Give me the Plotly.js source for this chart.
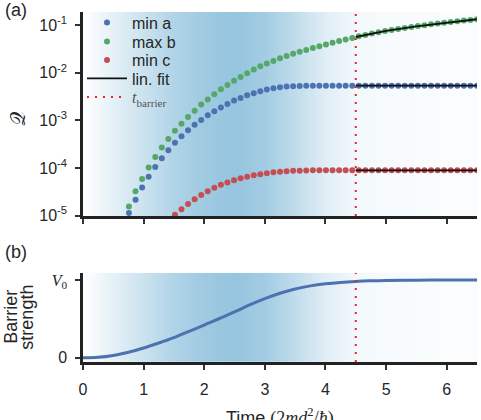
<!DOCTYPE html>
<html>
<head>
<meta charset="utf-8">
<script src="https://cdn.plot.ly/plotly-3.0.1.min.js"></script>
<style>html,body{margin:0;padding:0;background:#fff;}#chart{width:481px;height:420px;}</style>
</head>
<body>
<div id="chart"></div>
<script>
// ---- data ----
const times = [0, 0.108, 0.217, 0.325, 0.433, 0.542, 0.65, 0.758, 0.867, 0.975,
  1.083, 1.192, 1.3, 1.408, 1.517, 1.625, 1.733, 1.842, 1.95, 2.058,
  2.167, 2.275, 2.383, 2.492, 2.6, 2.708, 2.817, 2.925, 3.033, 3.142,
  3.25, 3.358, 3.467, 3.575, 3.683, 3.792, 3.9, 4.008, 4.117, 4.225,
  4.333, 4.442, 4.55, 4.658, 4.767, 4.875, 4.983, 5.092, 5.2, 5.308,
  5.417, 5.525, 5.633, 5.742, 5.85, 5.958, 6.067, 6.175, 6.283, 6.392, 6.5];

const minA = [1e-9, 1e-8, 6e-8, 2.5e-7, 8e-7, 2e-6, 5e-6,
  1.13e-5, 2.14e-5, 3.88e-5, 6.50e-5, 1.04e-4, 1.60e-4, 2.36e-4, 3.36e-4, 4.65e-4, 6.19e-4,
  8.02e-4, 1.02e-3, 1.28e-3, 1.55e-3, 1.85e-3, 2.21e-3, 2.59e-3, 2.95e-3, 3.36e-3, 3.70e-3,
  4.07e-3, 4.41e-3, 4.71e-3, 4.94e-3, 5.12e-3, 5.21e-3, 5.27e-3, 5.31e-3,
  5.33e-3, 5.33e-3, 5.33e-3, 5.33e-3, 5.33e-3, 5.33e-3, 5.33e-3, 5.33e-3, 5.33e-3, 5.33e-3,
  5.33e-3, 5.33e-3, 5.33e-3, 5.33e-3, 5.33e-3, 5.33e-3, 5.33e-3, 5.33e-3, 5.33e-3, 5.33e-3,
  5.33e-3, 5.33e-3, 5.33e-3, 5.33e-3, 5.33e-3, 5.33e-3];

const maxB = [2e-9, 2e-8, 1.2e-7, 5e-7, 1.5e-6, 3.5e-6, 7.5e-6,
  1.55e-5, 3.24e-5, 5.89e-5, 1.02e-4, 1.70e-4, 2.69e-4, 4.07e-4, 6.03e-4, 8.51e-4, 1.17e-3,
  1.58e-3, 2.14e-3, 2.72e-3, 3.52e-3, 4.49e-3, 5.52e-3, 6.79e-3, 8.13e-3, 9.70e-3, 1.16e-2,
  1.36e-2, 1.55e-2, 1.76e-2,
  0.0200, 0.0224, 0.0248, 0.0273, 0.0300, 0.0328, 0.0358, 0.0390, 0.0425, 0.0460, 0.0497, 0.0535,
  0.0579, 0.0620, 0.0661, 0.0703, 0.0744, 0.0785, 0.0826, 0.0867, 0.0908, 0.0950,
  0.0991, 0.1032, 0.1073, 0.1114, 0.1155, 0.1197, 0.1238, 0.1279, 0.1320];

const minC = [1e-10, 1e-9, 6e-9, 2.5e-8, 7e-8, 1.5e-7, 2.7e-7, 4.2e-7, 6e-7, 8.3e-7,
  1.1e-6, 2.2e-6, 4e-6, 6.8e-6,
  1.04e-5, 1.36e-5, 1.74e-5, 2.19e-5, 2.69e-5, 3.25e-5, 3.83e-5, 4.41e-5, 4.97e-5, 5.52e-5,
  6.05e-5, 6.54e-5, 7.00e-5, 7.41e-5, 7.78e-5, 8.09e-5, 8.32e-5, 8.53e-5, 8.69e-5, 8.77e-5, 8.86e-5,
  8.9e-5, 8.9e-5, 8.9e-5, 8.9e-5, 8.9e-5, 8.9e-5, 8.9e-5, 8.9e-5, 8.9e-5, 8.9e-5,
  8.9e-5, 8.9e-5, 8.9e-5, 8.9e-5, 8.9e-5, 8.9e-5, 8.9e-5, 8.9e-5, 8.9e-5, 8.9e-5,
  8.9e-5, 8.9e-5, 8.9e-5, 8.9e-5, 8.9e-5, 8.9e-5];

const fitT = [4.5, 5.0, 5.5, 6.0, 6.5];
const fitB = [0.056, 0.075, 0.094, 0.113, 0.132];
const fitA = [5.33e-3, 5.33e-3, 5.33e-3, 5.33e-3, 5.33e-3];
const fitC = [8.9e-5, 8.9e-5, 8.9e-5, 8.9e-5, 8.9e-5];

const tBarrier = 4.5;

const barrierT = [0, 0.25, 0.5, 0.75, 1.0, 1.25, 1.5, 1.75, 2.0, 2.25, 2.5, 2.75, 3.0, 3.25,
  3.5, 3.75, 4.0, 4.25, 4.5, 4.75, 5.0, 5.5, 6.0, 6.5];
const barrierV = [0, 0.006, 0.03, 0.07, 0.125, 0.19, 0.26, 0.34, 0.42, 0.505, 0.59, 0.68, 0.76, 0.83,
  0.885, 0.925, 0.952, 0.97, 0.982, 0.99, 0.995, 0.998, 1.0, 1.0];

// background shading intensity along time
const bgT = [0, 0.5, 1, 1.5, 2, 2.5, 3, 3.5, 4, 4.5, 5, 5.5, 6, 6.5];
const bgLevel = [0, 0.25, 0.5, 0.75, 0.92, 1.0, 0.88, 0.6, 0.3, 0.12, 0.08, 0.06, 0.05, 0.05];

const xTickVals = [0, 1, 2, 3, 4, 5, 6];
const xTickText = ['0', '1', '2', '3', '4', '5', '6'];
const yTickVals = [1e-5, 1e-4, 1e-3, 1e-2, 1e-1];
const yTickText = ['10<sup>-5</sup>', '10<sup>-4</sup>', '10<sup>-3</sup>', '10<sup>-2</sup>', '10<sup>-1</sup>'];
const y2TickVals = [0, 1];
const y2TickText = ['0', '<span style="font-family:Liberation Serif,serif"><i>V</i><sub>0</sub></span>'];

const topYRange = [-5.01, -0.727];
const botYRange = [-0.055, 1.094];

// ---- styling ----
const cBlue = '#4c72b0', cGreen = '#55a868', cRed = '#c44e52', cBar = '#e8262a';
const bgScale = [[0, '#ffffff'], [1, '#96c5df']];
const txt = '#262626';

const traces = [
  {type: 'heatmap', x: bgT, y: [1e-7, 10], z: [bgLevel, bgLevel], xaxis: 'x', yaxis: 'y',
   colorscale: bgScale, zmin: 0, zmax: 1, zsmooth: 'best', showscale: false, hoverinfo: 'skip'},
  {type: 'heatmap', x: bgT, y: [-1, 2], z: [bgLevel, bgLevel], xaxis: 'x2', yaxis: 'y2',
   colorscale: bgScale, zmin: 0, zmax: 1, zsmooth: 'best', showscale: false, hoverinfo: 'skip'},
  {type: 'scatter', mode: 'markers', name: 'min a', legend: 'legend', x: times, y: minA, xaxis: 'x', yaxis: 'y',
   marker: {color: cBlue, size: 6}},
  {type: 'scatter', mode: 'markers', name: 'max b', legend: 'legend2', x: times, y: maxB, xaxis: 'x', yaxis: 'y',
   marker: {color: cGreen, size: 6}},
  {type: 'scatter', mode: 'markers', name: 'min c', legend: 'legend3', x: times, y: minC, xaxis: 'x', yaxis: 'y',
   marker: {color: cRed, size: 6}},
  {type: 'scatter', mode: 'lines', name: 'lin. fit', legend: 'legend4', legendgroup: 'fit', x: fitT, y: fitA,
   xaxis: 'x', yaxis: 'y', line: {color: '#111', width: 1.8}},
  {type: 'scatter', mode: 'lines', name: 'lin. fit', legend: 'legend4', legendgroup: 'fit', showlegend: false,
   x: fitT, y: fitB, xaxis: 'x', yaxis: 'y', line: {color: '#111', width: 1.8}},
  {type: 'scatter', mode: 'lines', name: 'lin. fit', legend: 'legend4', legendgroup: 'fit', showlegend: false,
   x: fitT, y: fitC, xaxis: 'x', yaxis: 'y', line: {color: '#111', width: 1.8}},
  {type: 'scatter', mode: 'lines',
   name: '<span style="font-family:Liberation Serif,serif;color:#555"><i>t</i><sub>barrier</sub></span>',
   legend: 'legend5', legendgroup: 'tb', x: [tBarrier, tBarrier],
   y: [Math.pow(10, topYRange[0]), Math.pow(10, topYRange[1])], xaxis: 'x', yaxis: 'y',
   line: {color: cBar, width: 2, dash: '2px,6px'}},
  {type: 'scatter', mode: 'lines', name: 'barrier', showlegend: false, x: barrierT, y: barrierV,
   xaxis: 'x2', yaxis: 'y2', line: {color: cBlue, width: 3, shape: 'spline'}},
  {type: 'scatter', mode: 'lines', name: 'tb2', legend: 'legend5', legendgroup: 'tb', showlegend: false,
   x: [tBarrier, tBarrier], y: botYRange, xaxis: 'x2', yaxis: 'y2',
   line: {color: cBar, width: 2, dash: '2px,6px'}}
];

const axisCommon = {
  showline: true, linewidth: 2.5, linecolor: '#222', showgrid: false, zeroline: false,
  ticks: 'outside', ticklen: 5, tickwidth: 1.5, tickcolor: '#333',
  tickfont: {family: 'Liberation Sans, Arial, sans-serif', size: 16, color: txt}
};

function legendAt(py) {
  return {x: -0.0025, y: (362 - py) / 350, xanchor: 'left', yanchor: 'middle', bgcolor: 'rgba(0,0,0,0)',
    font: {size: 16, color: txt}, itemwidth: 40, borderwidth: 0};
}

const layout = {
  width: 481, height: 420,
  margin: {l: 82.5, r: 3.7, t: 12, b: 58},
  paper_bgcolor: '#fff', plot_bgcolor: '#fff',
  font: {family: 'Liberation Sans, Arial, sans-serif', color: txt},
  showlegend: true,
  legend: legendAt(22.7),
  legend2: legendAt(41.5),
  legend3: legendAt(60),
  legend4: legendAt(78.5),
  legend5: legendAt(97),
  xaxis: Object.assign({}, axisCommon, {anchor: 'y', range: [0, 6.5], tickvals: xTickVals,
    showticklabels: false}),
  yaxis: Object.assign({}, axisCommon, {anchor: 'x', domain: [0.417, 1], type: 'log', range: topYRange,
    tickvals: yTickVals, ticktext: yTickText, ticklabelstandoff: 5}),
  xaxis2: Object.assign({}, axisCommon, {anchor: 'y2', range: [0, 6.5], tickvals: xTickVals,
    ticktext: xTickText, ticklabelstandoff: 6}),
  yaxis2: Object.assign({}, axisCommon, {anchor: 'x2', domain: [0, 0.255], range: botYRange,
    tickvals: y2TickVals, ticktext: y2TickText, ticklabelstandoff: 5}),
  annotations: [
    {text: '(a)', xref: 'paper', yref: 'paper', x: -0.171, y: 1.0057, xanchor: 'center', yanchor: 'middle',
     showarrow: false, font: {size: 18, color: txt}},
    {text: '(b)', xref: 'paper', yref: 'paper', x: -0.171, y: 0.314, xanchor: 'center', yanchor: 'middle',
     showarrow: false, font: {size: 18, color: txt}},
    {text: '𝒬', xref: 'paper', yref: 'paper', x: -0.166, y: 0.697, xanchor: 'center', yanchor: 'middle',
     textangle: -90, showarrow: false, font: {size: 20, color: txt, family: 'DejaVu Serif, serif'}},
    {text: 'Barrier', xref: 'paper', yref: 'paper', x: (10 - 82.5) / 395, y: 0.1286, xanchor: 'center',
     yanchor: 'middle', textangle: -90, showarrow: false, font: {size: 18, color: txt}},
    {text: 'strength', xref: 'paper', yref: 'paper', x: (26 - 82.5) / 395, y: 0.1286, xanchor: 'center',
     yanchor: 'middle', textangle: -90, showarrow: false, font: {size: 18, color: txt}},
    {text: 'Time <span style="font-family:Liberation Serif,serif">(2<i>md</i><sup>2</sup>/<i>ħ</i>)</span>',
     xref: 'paper', yref: 'paper', x: 0.5, y: -0.157, xanchor: 'center', yanchor: 'middle',
     showarrow: false, font: {size: 18, color: txt}}
  ]
};

Plotly.newPlot('chart', traces, layout, {displayModeBar: false, responsive: false});
</script>
</body>
</html>
